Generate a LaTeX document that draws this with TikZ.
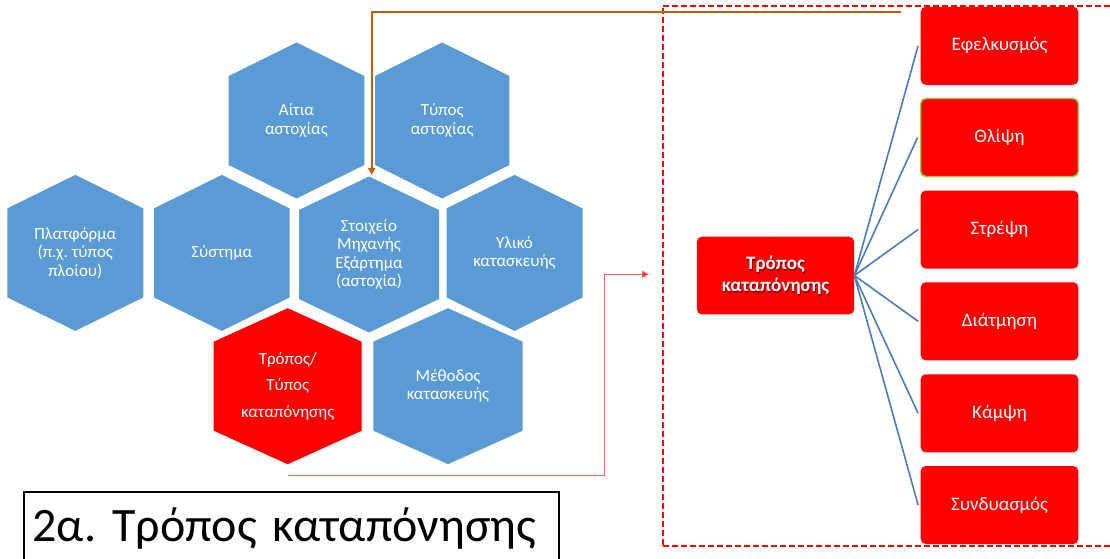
\documentclass[tikz,border=0pt]{standalone}
\usepackage{fontspec}
\setmainfont{Carlito}
\usetikzlibrary{arrows.meta,calc}
\frenchspacing

\definecolor{hexblue}{RGB}{91,155,213}
\definecolor{alarm}{RGB}{255,0,0}
\definecolor{rust}{RGB}{197,90,17}
\definecolor{spokeblue}{RGB}{74,126,187}
\definecolor{leaf}{RGB}{146,208,80}
\definecolor{softred}{RGB}{255,95,95}

% pointy-topped hexagon with a named label node in its centre
% #1 name, #2 centre x, #3 centre y, #4 half width, #5 fill, #6 label
\newcommand{\hexcell}[6]{%
  \fill[#5] (#2-#4,#3-44.5) -- (#2,#3-78) -- (#2+#4,#3-44.5) --
            (#2+#4,#3+44.5) -- (#2,#3+78) -- (#2-#4,#3+44.5) -- cycle;
  \coordinate (#1-top) at (#2,#3-78);
  \coordinate (#1-bottom) at (#2,#3+78);
  \node[hexlabel] (#1) at (#2,#3) {#6};
}

\tikzset{
  hexlabel/.style={text=white, align=center, inner sep=0pt,
    font=\fontsize{17}{18.3}\selectfont},
  leafbox/.style={fill=alarm, rounded corners=5pt, minimum width=157.6pt,
    minimum height=78pt, inner sep=0pt, text=white,
    font=\fontsize{19}{22}\selectfont},
  centrebox/.style={fill=alarm, rounded corners=5pt, minimum width=157.3pt,
    minimum height=77.6pt, inner sep=0pt},
  centretext/.style={align=center, inner sep=0pt, text=white,
    font=\fontsize{19}{21.7}\selectfont\bfseries},
  spoke/.style={draw=spokeblue, line width=1.6pt},
  frame/.style={draw=alarm, dash pattern=on 6pt off 3pt,
    line width=1.7pt, inner sep=0pt, outer sep=0pt},
  feed/.style={draw=rust, line width=2.2pt,
    -{Triangle[length=7pt,width=7pt]}},
  pointer/.style={draw=softred, line width=1.3pt,
    -{Triangle[length=7pt,width=7pt,fill=alarm]}},
  titlebox/.style={draw=black, line width=1.8pt, anchor=north west,
    text width=517.6pt, align=left, inner xsep=9pt, inner ysep=14pt,
    text height=36pt, text depth=20pt,
    font=\fontsize{48}{52}\selectfont}
}

\begin{document}
\begin{tikzpicture}[x=1pt, y=-1pt]
\useasboundingbox (0,0) rectangle (1110,559);

% honeycomb of influencing factors
\hexcell{aitia}{296.5}{120.5}{67.8}{hexblue}{Αίτια\\αστοχίας}
\hexcell{typos}{442.2}{120.5}{67.2}{hexblue}{Τύπος\\αστοχίας}
\hexcell{platforma}{75.3}{252.9}{68}{hexblue}{Πλατφόρμα\\(π.χ. τύπος\\πλοίου)}
\hexcell{systima}{221.8}{252.9}{67.8}{hexblue}{Σύστημα}
\hexcell{stoixeio}{369}{254.5}{70}{hexblue}{Στοιχείο\\Μηχανής\\Εξάρτημα\\(αστοχία)}
\hexcell{yliko}{514.5}{252.9}{68}{hexblue}{Υλικό\\κατασκευής}
\hexcell{tropos}{287.7}{386.2}{74}{alarm}{Τρόπος/\\[8.4pt]Τύπος\\[8.4pt]καταπόνησης}
\hexcell{methodos}{448}{386.2}{74.7}{hexblue}{Μέθοδος\\κατασκευής}

% dashed frame around the breakdown
\node[frame, minimum width=462.3pt, minimum height=540pt] (frame) at (893.85,275.7) {};

% central box with shadowed caption
\node[centrebox] (centre) at (775.5,275.5) {};
\node[centretext, text=black, opacity=0.45] (centre-shadow)
  at ([xshift=1pt,yshift=-1.5pt]centre.center) {Τρόπος\\καταπόνησης};
\node[centretext] (centre-label) at (centre.center) {Τρόπος\\καταπόνησης};

% kinds of loading
\node[leafbox] (efelk) at (999.5,45.8) {Εφελκυσμός};
\node[leafbox, draw=leaf, line width=1.5pt] (thlipsi) at (999.5,137.5) {Θλίψη};
\node[leafbox] (strepsi) at (999.5,229.5) {Στρέψη};
\node[leafbox] (diatmisi) at (999.5,321.3) {Διάτμηση};
\node[leafbox] (kampsi) at (999.5,413.3) {Κάμψη};
\node[leafbox] (syndyasmos) at (999.5,505) {Συνδυασμός};

\foreach \leaf in {efelk,thlipsi,strepsi,diatmisi,kampsi,syndyasmos}
  \draw[spoke] (centre.east) -- ([xshift=-2.4pt]\leaf.west);

% connectors
\coordinate (feed-start) at (901,11.7);
\draw[feed] (feed-start) -| ([xshift=2.7pt,yshift=1.5pt]stoixeio-top);

\draw[pointer] ([yshift=-11pt]tropos-bottom)
  -| ([xshift=-58.4pt,yshift=1.4pt]frame.west)
  -- ([xshift=-13.7pt,yshift=1.4pt]frame.west);

% caption
\node[titlebox] (title) at (22.7,490.7) {2α. Τρόπος καταπόνησης};
\end{tikzpicture}
\end{document}
